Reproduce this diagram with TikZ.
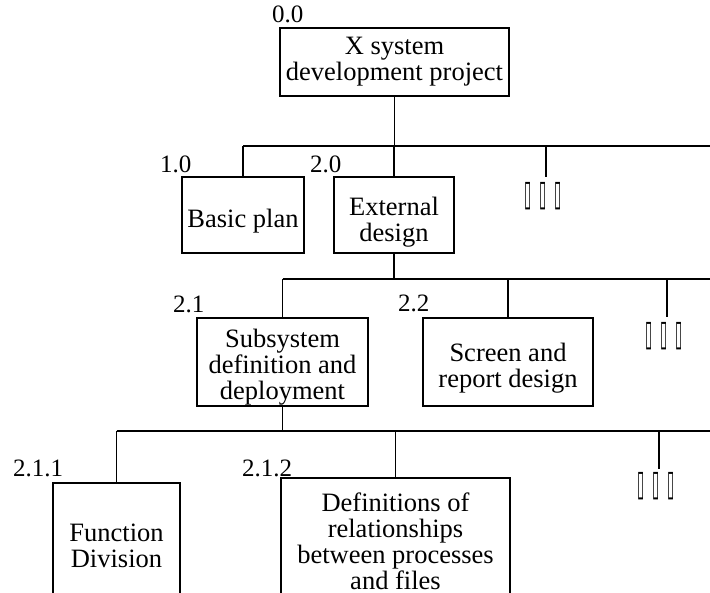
\documentclass[tikz,border=0pt]{standalone}
\usepackage{fontspec}
\usepackage{graphicx}
\setmainfont{Liberation Serif}
\newfontfamily\tofufont{DejaVu Sans}
\newcommand{\etcmark}{\scalebox{0.65}[1.8]{▯\hspace{11.7pt}▯\hspace{11.7pt}▯}}
\tikzset{
    BX/.style ={rectangle, draw, line width=1.5pt, align=center, inner sep=0pt,
                font=\fontsize{26.5}{26}\selectfont},
    TX/.style ={align=center, inner sep=0pt, font=\fontsize{26.5}{26}\selectfont},
    NR/.style ={anchor=base west, inner sep=0pt, font=\fontsize{25}{25}\selectfont},
    ET/.style ={inner sep=0pt, font=\tofufont\fontsize{20}{20}\selectfont},
    LN/.style ={line width=1.5pt}}

\begin{document}
\begin{tikzpicture}[x=1pt,y=-1pt]
    \useasboundingbox (0,0) rectangle (710,593);
    \clip (0,0) rectangle (710,593);
    % level 0
    \node[BX, minimum width=229pt, minimum height=68pt] (root) at (394.5,62) {X system\\development project};
    \node[NR] (n00) at (272,23) {0.0};
    % level 1
    \node[BX, minimum width=122pt, minimum height=76pt] (plan) at (243,215) {};
    \node[TX] (plant) at (243,221) {Basic plan};
    \node[BX, minimum width=120pt, minimum height=76pt] (ext) at (394,215) {};
    \node[TX] (extt) at (394,222) {External\\design};
    \node[NR] (n10) at (160,173) {1.0};
    \node[NR] (n20) at (310,173) {2.0};
    \node[ET] (etc1) at (543,196) {\etcmark};
    % level 2
    \node[BX, minimum width=171pt, minimum height=88pt] (sub) at (282.5,362) {};
    \node[TX] (subt) at (282.5,367) {Subsystem\\definition and\\deployment};
    \node[BX, minimum width=170pt, minimum height=88pt] (scr) at (508,362) {};
    \node[TX] (scrt) at (508,368) {Screen and\\report design};
    \node[NR] (n21) at (173,313) {2.1};
    \node[NR] (n22) at (398,312) {2.2};
    \node[ET] (etc2) at (664,336) {\etcmark};
    % level 3
    \node[BX, minimum width=127pt, minimum height=126pt] (func) at (116.5,546) {Function\\Division};
    \node[BX, minimum width=229pt, minimum height=126pt] (defs) at (395.5,541) {Definitions of\\relationships\\between processes\\and files};
    \node[NR] (n211) at (13,477) {2.1.1};
    \node[NR] (n212) at (242,477) {2.1.2};
    \node[ET] (etc3) at (656,486) {\etcmark};
    % buses
    \coordinate (b1w) at (243,146);   \coordinate (b1e) at (710,146);
    \coordinate (b2w) at (282.5,279); \coordinate (b2e) at (710,279);
    \coordinate (b3w) at (116.5,431); \coordinate (b3e) at (710,431);
    \coordinate (t1) at (546,177);
    \coordinate (t2) at (667,317);
    \coordinate (t3) at (659,469);
    \draw[LN] (b1w) -- (b1e);
    \draw[LN] (b2w) -- (b2e);
    \draw[LN] (b3w) -- (b3e);
    \draw[LN] (root) -- (root |- b1w);
    \draw[LN] (b1w) -- (plan);
    \draw[LN] (ext |- b1w) -- (ext);
    \draw[LN] (t1 |- b1w) -- (t1);
    \draw[LN] (ext) -- (ext |- b2w);
    \draw[LN] (b2w) -- (sub);
    \draw[LN] (scr |- b2w) -- (scr);
    \draw[LN] (t2 |- b2w) -- (t2);
    \draw[LN] (sub) -- (sub |- b3w);
    \draw[LN] (b3w) -- (func);
    \draw[LN] (defs |- b3w) -- (defs);
    \draw[LN] (t3 |- b3w) -- (t3);
\end{tikzpicture}
\end{document}
